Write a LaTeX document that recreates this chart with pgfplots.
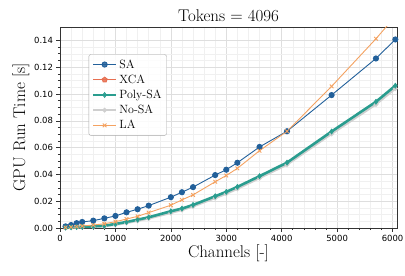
\documentclass[border=0pt]{standalone}
\usepackage{pgfplots}
\pgfplotsset{compat=1.18}
\usepackage{fontspec}
\newfontfamily\tickfont{DejaVu Sans}
\usetikzlibrary{plotmarks}
\definecolor{saC}{HTML}{22609A}
\definecolor{xcaC}{HTML}{E76F51}
\definecolor{polyC}{HTML}{2A9D8F}
\definecolor{nosaC}{HTML}{CFCFCF}
\definecolor{laC}{HTML}{F4A261}
\definecolor{frameC}{HTML}{333333}
\begin{document}
\begin{tikzpicture}
\begin{axis}[
  name=ax,
  scale only axis,
  width=337bp, height=201bp,
  xmin=0, xmax=6080, ymin=0, ymax=0.15,
  xtick={0,1000,2000,3000,4000,5000,6000},
  ytick={0,0.02,0.04,0.06,0.08,0.10,0.12,0.14},
  minor x tick num=4, minor y tick num=3,
  scaled x ticks=false, scaled y ticks=false,
  /pgf/number format/assume math mode=true,
  /pgf/number format/1000 sep={},
  yticklabel style={/pgf/number format/fixed,/pgf/number format/fixed zerofill,/pgf/number format/precision=2},
  ticklabel style={font=\tickfont\fontsize{8.5}{10}\selectfont, text=black},
  tick align=outside, tickpos=left,
  major tick length=3.5bp, minor tick length=2bp,
  every tick/.style={frameC, line width=0.6bp},
  axis line style={frameC, line width=0.8bp},
  grid=both,
  major grid style={draw=black!13, line width=0.6bp},
  minor grid style={draw=black!6, line width=0.5bp},
  title={Tokens $=$ 4096},
  title style={font=\fontsize{17}{20}\selectfont, yshift=-4bp},
  xlabel={Channels [-]},
  ylabel={GPU Run Time [s]},
  label style={font=\fontsize{17}{20}\selectfont},
  xlabel style={yshift=3bp},
  ylabel style={yshift=-2bp},
  legend style={at={(0.085,0.864)}, anchor=north west, font=\fontsize{12}{14}\selectfont,
    draw=black!35, rounded corners=2bp, fill=white, fill opacity=0.85, text opacity=1,
    row sep=1.2bp, inner xsep=3bp, inner ysep=3bp, cells={anchor=west}},
  legend cell align=left,
  legend image code/.code={\draw[mark repeat=2,mark phase=2] plot coordinates {(0bp,0bp) (11.5bp,0bp) (23bp,0bp)};},
]
% No-SA (drawn first, underneath)
\addplot[nosaC, line width=2bp, mark=*, mark size=1.2bp, forget plot] coordinates {
(100,0.0001) (200,0.0003) (300,0.0004) (400,0.0006) (600,0.0008) (800,0.0012) (1000,0.0023)
(1200,0.0037) (1400,0.0053) (1600,0.0070) (2000,0.0112) (2200,0.0134) (2400,0.0160)
(2800,0.0223) (3000,0.0255) (3200,0.0292) (3600,0.0372) (4096,0.0472) (4900,0.0702)
(5700,0.0922) (6050,0.1040)};
% SA
\addplot[saC, line width=0.9bp, mark=*, mark size=2.6bp] coordinates {
(100,0.0012) (200,0.0022) (300,0.0036) (400,0.0045) (600,0.0055) (800,0.0072) (1000,0.0090)
(1200,0.0117) (1400,0.0140) (1600,0.0167) (2000,0.0230) (2200,0.0267) (2400,0.0305)
(2800,0.0395) (3000,0.0435) (3200,0.0487) (3600,0.0605) (4096,0.0722) (4900,0.0992)
(5700,0.1265) (6050,0.1407)};
\addlegendentry{SA}
\addlegendimage{xcaC, line width=0.9bp, mark=pentagon*, mark size=2.6bp}
\addlegendentry{XCA}
% Poly-SA
\addplot[polyC, line width=2.6bp, mark=diamond*, mark size=2.6bp, mark options={line width=0.5bp}] coordinates {
(100,0.0003) (200,0.0005) (300,0.0007) (400,0.0009) (600,0.0012) (800,0.0017) (1000,0.0030)
(1200,0.0045) (1400,0.0062) (1600,0.0080) (2000,0.0125) (2200,0.0145) (2400,0.0172)
(2800,0.0237) (3000,0.0270) (3200,0.0307) (3600,0.0387) (4096,0.0488) (4900,0.0720)
(5700,0.0942) (6050,0.1062)};
\addlegendentry{Poly-SA}
\addlegendimage{nosaC, line width=2bp, mark=*, mark size=1.2bp}
\addlegendentry{No-SA}
% LA
\addplot[laC, line width=0.9bp, mark=x, mark size=2.6bp] coordinates {
(100,0.0004) (200,0.0007) (300,0.0010) (400,0.0015) (600,0.0022) (800,0.0032) (1000,0.0047)
(1200,0.0067) (1400,0.0087) (1600,0.0115) (2000,0.0170) (2200,0.0210) (2400,0.0247)
(2800,0.0345) (3000,0.0392) (3200,0.0445) (3600,0.0577) (4096,0.0722) (4900,0.1057)
(5700,0.1412) (6050,0.1580)};
\addlegendentry{LA}
\end{axis}
\pgfresetboundingbox
\path ([shift={(-60bp,-48bp)}]ax.south west) rectangle ([shift={(8bp,27bp)}]ax.north east);
\end{tikzpicture}
\end{document}
